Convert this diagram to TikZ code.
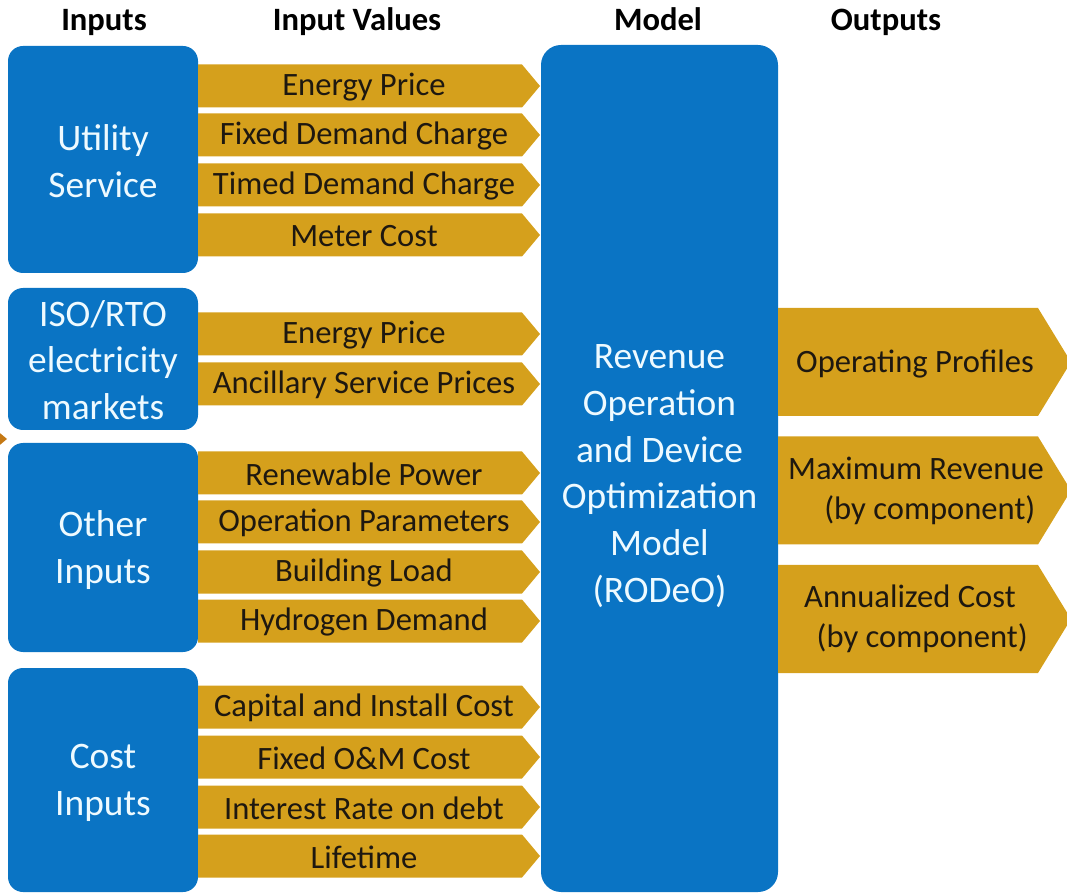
\documentclass[tikz,border=0pt]{standalone}
\usepackage{fontspec}
\setmainfont{Carlito}
\usetikzlibrary{calc}
\definecolor{box-blue}{RGB}{10,116,196}
\definecolor{arrow-gold}{RGB}{213,160,28}
\definecolor{tip-brown}{RGB}{196,120,20}
\definecolor{label-light}{RGB}{238,250,255}
\definecolor{label-dark}{RGB}{30,24,16}
\tikzset{
  inputbox/.style={fill=box-blue,rounded corners=7.5pt},
  modelbox/.style={fill=box-blue,rounded corners=10pt},
  boxlabel/.style={text=label-light,align=center,font=\fontsize{18.7}{23.4}\selectfont},
  valuelabel/.style={text=label-dark,font=\fontsize{16.3}{19.6}\selectfont},
  outlabel/.style={text=label-dark,align=center,font=\fontsize{16.3}{20}\selectfont},
  heading/.style={text=black,anchor=base,font=\fontsize{16.3}{19.6}\selectfont\bfseries},
}

\begin{document}
\begin{tikzpicture}[x=0.5pt,y=-0.5pt]
   \useasboundingbox (0,0) rectangle (1067,893);
   % column headings
   \node[heading] (h-inputs) at (104,31) {Inputs};
   \node[heading] (h-values) at (357,31) {Input Values};
   \node[heading] (h-model) at (658,31) {Model};
   \node[heading] (h-outputs) at (886,31) {Outputs};
   % input groups
   \fill[inputbox] (8,46) rectangle (198,273);
   \fill[inputbox] (8,288) rectangle (198,430);
   \fill[inputbox] (8,443) rectangle (198,652);
   \fill[inputbox] (8,668) rectangle (198,892);
   \node[boxlabel] (utility) at (103,161) {Utility\\Service};
   \node[boxlabel] (iso) at (103,360) {ISO/RTO\\electricity\\markets};
   \node[boxlabel] (other) at (103,550) {Other\\Inputs};
   \node[boxlabel] (cost) at (103,783) {Cost\\Inputs};
   \fill[tip-brown] (-5,429) -- (7,439) -- (-5,449) -- cycle;
   % input values
   \foreach \y/\txt in {86/Energy Price,135/Fixed Demand Charge,185/Timed Demand Charge,235/Meter Cost,
                        334/Energy Price,384/Ancillary Service Prices,
                        473/Renewable Power,522/Operation Parameters,572/Building Load,621/Hydrogen Demand,
                        707/Capital and Install Cost,757/Fixed O\&M Cost,807/Interest Rate on debt,856/Lifetime}{
      \fill[arrow-gold] (198,\y-21.5) -- (522,\y-21.5) -- (540,\y) -- (522,\y+21.5) -- (198,\y+21.5) -- cycle;
      \node[valuelabel] (value-\y) at (364,\y+1) {\txt};
   }
   % model
   \fill[modelbox] (541,45) rectangle (778,892);
   \node[boxlabel] (rodeo) at (659.5,476) {Revenue\\Operation\\and Device\\Optimization\\Model\\(RODeO)};
   % outputs
   \foreach \y in {362,490.5,619}{
      \fill[arrow-gold] (778,\y-54) -- (1038,\y-54) -- (1071,\y) -- (1038,\y+54) -- (778,\y+54) -- cycle;
   }
   \node[outlabel] (profiles) at (915,364) {Operating Profiles};
   \node[outlabel] (revenue) at (916,491) {Maximum Revenue\\\hspace*{0.85em}(by component)};
   \node[outlabel] (annual) at (910,619) {Annualized Cost\\\hspace*{0.75em}(by component)};
\end{tikzpicture}
\end{document}
